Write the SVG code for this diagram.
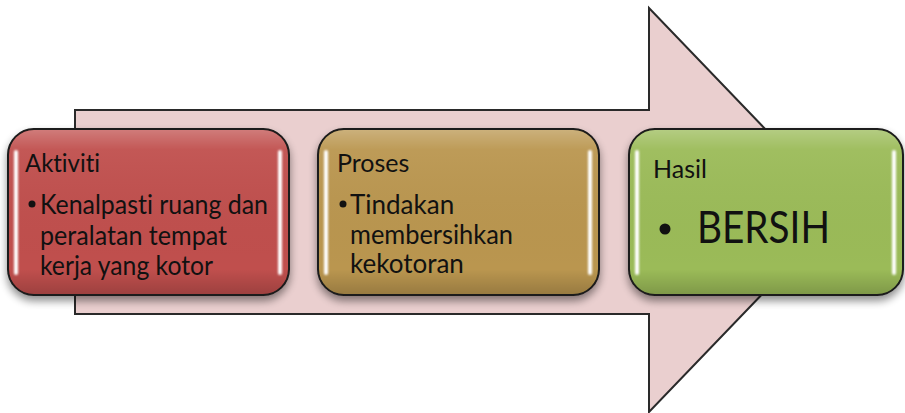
<svg xmlns="http://www.w3.org/2000/svg" width="905" height="413" viewBox="0 0 905 413">
  <defs>
    <style>
      .box { stroke: #1a1a1a; stroke-width: 2; }
      text { font-family: Lato, "Open Sans", sans-serif; fill: #111; font-variant-ligatures: none; }
      .title { font-size: 25px; }
      .body { font-size: 26px; }
      .big { font-size: 44px; }
      .hl { fill: #ffffff; }
    </style>
    <linearGradient id="gloss" x1="0" y1="0" x2="0" y2="1">
      <stop offset="0" stop-color="#ffffff" stop-opacity="0.25"/>
      <stop offset="0.12" stop-color="#ffffff" stop-opacity="0.05"/>
      <stop offset="0.85" stop-color="#000000" stop-opacity="0"/>
      <stop offset="1" stop-color="#000000" stop-opacity="0.18"/>
    </linearGradient>
    <linearGradient id="strip" x1="0" y1="0" x2="0" y2="1">
      <stop offset="0" stop-color="#ffffff" stop-opacity="0.9"/>
      <stop offset="0.5" stop-color="#ffffff" stop-opacity="0.45"/>
      <stop offset="1" stop-color="#ffffff" stop-opacity="0.9"/>
    </linearGradient>
    <filter id="shadow" x="-10%" y="-10%" width="120%" height="130%">
      <feGaussianBlur in="SourceAlpha" stdDeviation="4"/>
      <feOffset dy="5" result="b"/>
      <feComponentTransfer><feFuncA type="linear" slope="0.45"/></feComponentTransfer>
      <feMerge><feMergeNode/><feMergeNode in="SourceGraphic"/></feMerge>
    </filter>
    <filter id="soft" x="-100%" y="-10%" width="300%" height="120%">
      <feGaussianBlur stdDeviation="1.2"/>
    </filter>
  </defs>

  <rect width="905" height="413" fill="#ffffff"/>

  <!-- big process arrow behind the steps -->
  <g id="process-arrow">
    <polygon points="75,110 649,110 649,8 843,210 649,412 649,314 75,314"
             fill="#EACFCF" stroke="#2a2a2a" stroke-width="2" stroke-linejoin="miter"/>
  </g>

  <!-- step 1 -->
  <g id="aktiviti">
    <rect class="box" x="8" y="129" width="281" height="166" rx="26" fill="#C0504D" filter="url(#shadow)"/>
    <rect x="9" y="130" width="279" height="164" rx="25" fill="url(#gloss)"/>
    <rect class="hl" x="14" y="150" width="4" height="125" rx="2" fill="url(#strip)" filter="url(#soft)"/>
    <rect class="hl" x="278" y="150" width="4" height="125" rx="2" fill="url(#strip)" filter="url(#soft)"/>
    <text class="title" x="25" y="172" textLength="75" lengthAdjust="spacingAndGlyphs">Aktiviti</text>
    <circle cx="32" cy="204" r="3.5" fill="#111"/>
    <text class="body" x="40" y="214" textLength="228" lengthAdjust="spacingAndGlyphs">Kenalpasti ruang dan</text>
    <text class="body" x="40" y="245" textLength="187" lengthAdjust="spacingAndGlyphs">peralatan tempat</text>
    <text class="body" x="40" y="275" textLength="173" lengthAdjust="spacingAndGlyphs">kerja yang kotor</text>
  </g>

  <!-- step 2 -->
  <g id="proses">
    <rect class="box" x="318" y="129" width="281" height="166" rx="26" fill="#BA964F" filter="url(#shadow)"/>
    <rect x="319" y="130" width="279" height="164" rx="25" fill="url(#gloss)"/>
    <rect class="hl" x="324" y="150" width="4" height="125" rx="2" fill="url(#strip)" filter="url(#soft)"/>
    <rect class="hl" x="588" y="150" width="4" height="125" rx="2" fill="url(#strip)" filter="url(#soft)"/>
    <text class="title" x="337" y="172">Proses</text>
    <circle cx="343" cy="204" r="3.5" fill="#111"/>
    <text class="body" x="350" y="214">Tindakan</text>
    <text class="body" x="350" y="244" textLength="163" lengthAdjust="spacingAndGlyphs">membersihkan</text>
    <text class="body" x="350" y="273">kekotoran</text>
  </g>

  <!-- step 3 -->
  <g id="hasil">
    <rect class="box" x="629" y="129" width="274" height="166" rx="26" fill="#9BBB59" filter="url(#shadow)"/>
    <rect x="630" y="130" width="272" height="164" rx="25" fill="url(#gloss)"/>
    <rect class="hl" x="635" y="150" width="4" height="125" rx="2" fill="url(#strip)" filter="url(#soft)"/>
    <rect class="hl" x="892" y="150" width="4" height="125" rx="2" fill="url(#strip)" filter="url(#soft)"/>
    <text class="title" x="653" y="178">Hasil</text>
    <circle cx="665" cy="229" r="5.5" fill="#111"/>
    <text class="big" x="697" y="243" textLength="133" lengthAdjust="spacingAndGlyphs">BERSIH</text>
  </g>
</svg>
